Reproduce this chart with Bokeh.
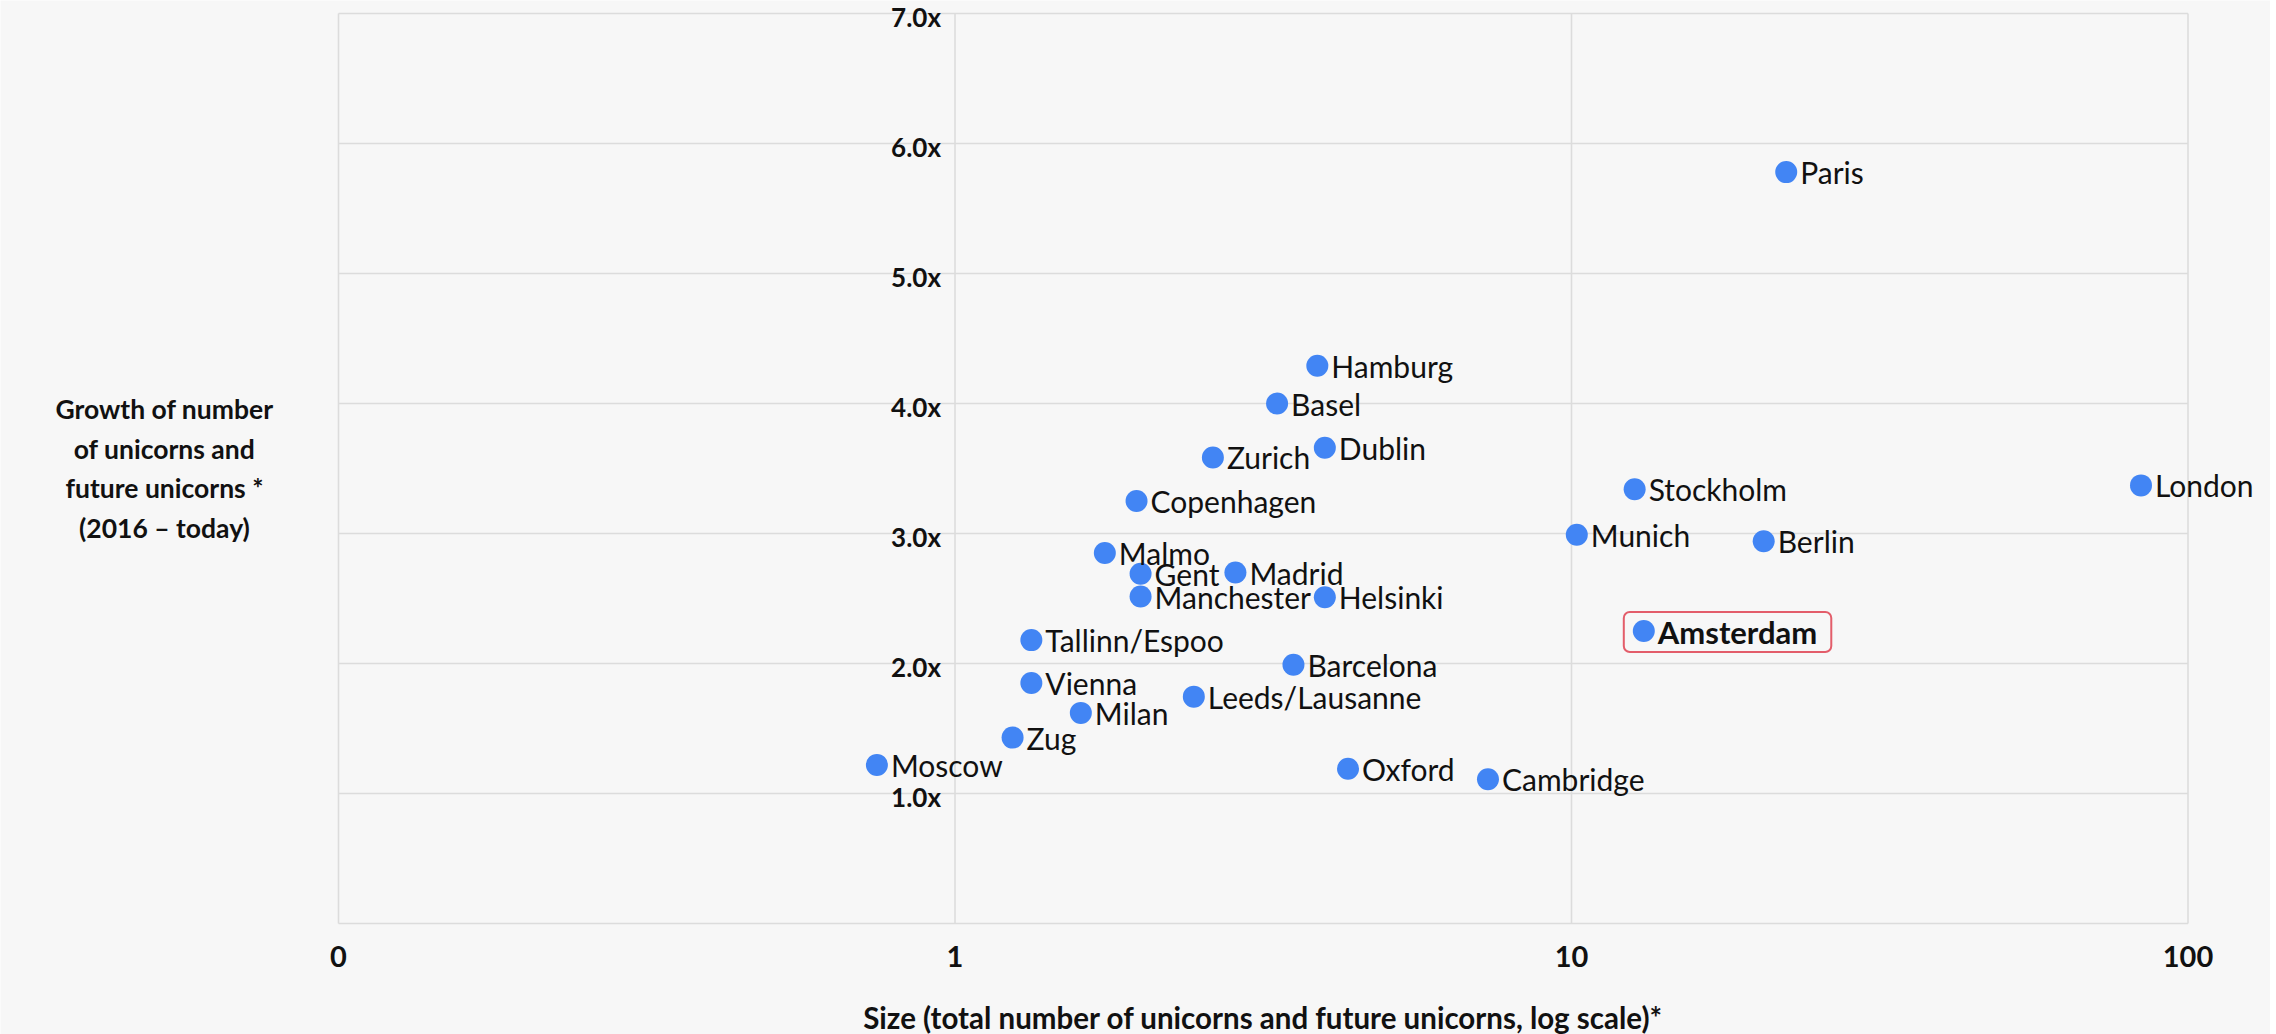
import math
from bokeh.plotting import figure
from bokeh.models import Range1d, ColumnDataSource
from bokeh.core.properties import value
from bokeh.embed import file_html
from bokeh.resources import INLINE

# ---------------- data ----------------
cities = ["Paris", "Hamburg", "Basel", "Dublin", "Zurich", "Copenhagen", "Stockholm",
          "London", "Munich", "Berlin", "Malmo", "Gent", "Madrid", "Manchester",
          "Helsinki", "Amsterdam", "Tallinn/Espoo", "Barcelona", "Vienna",
          "Leeds/Lausanne", "Milan", "Zug", "Moscow", "Oxford", "Cambridge"]
size = [22.3, 3.87, 3.33, 3.98, 2.62, 1.97, 12.66,
        83.9, 10.2, 20.5, 1.75, 2.0, 2.85, 2.0,
        3.98, 13.1, 1.33, 3.54, 1.33,
        2.44, 1.60, 1.24, 0.747, 4.34, 7.32]
growth = [5.78, 4.29, 4.00, 3.66, 3.585, 3.25, 3.34,
          3.37, 2.99, 2.94, 2.85, 2.69, 2.70, 2.515,
          2.51, 2.25, 2.18, 1.99, 1.85,
          1.745, 1.62, 1.43, 1.22, 1.19, 1.11]
highlight = "Amsterdam"

x_ticks = [0.1, 1, 10, 100]
x_tick_labels = ["0", "1", "10", "100"]
y_ticks = [1, 2, 3, 4, 5, 6, 7]
y_tick_labels = ["1.0x", "2.0x", "3.0x", "4.0x", "5.0x", "6.0x", "7.0x"]
y_grid = [0, 1, 2, 3, 4, 5, 6, 7]

x_title = "Size (total number of unicorns and future unicorns, log scale)*"
y_title = "Growth of number\nof unicorns and\nfuture unicorns *\n(2016 \u2013 today)"

# ---------------- layout ----------------
W, H = 2270, 1034
LEFT_PX = 338.0      # canvas px of x = 0.1
DECADE_PX = 616.5    # px per decade
ZERO_PX = 923.0      # canvas px of y = 0
UNIT_PX = 130.0      # px per unit of y

x_start = 10 ** (-1 - LEFT_PX / DECADE_PX)
x_end = 10 ** (-1 + (W - LEFT_PX) / DECADE_PX)
y_end = ZERO_PX / UNIT_PX
y_start = (ZERO_PX - H) / UNIT_PX

FONT = value("Lato")
BG = "#f7f7f7"
GRID = "#dcdcdc"
TXT = "#111111"
BLUE = "#4285f4"
RED = "#e35d6a"

p = figure(width=W, height=H, output_backend="svg", toolbar_location=None,
           x_axis_type="log", x_axis_location=None, y_axis_location=None,
           x_range=Range1d(x_start, x_end), y_range=Range1d(y_start, y_end),
           min_border=0, background_fill_color=BG, border_fill_color=BG)
p.outline_line_color = None
p.grid.visible = False

# grid lines
p.segment(x0=[x_ticks[0]] * len(y_grid), x1=[x_ticks[-1]] * len(y_grid),
          y0=y_grid, y1=y_grid, line_color=GRID, line_width=1.6)
p.segment(x0=x_ticks, x1=x_ticks, y0=[y_grid[0]] * len(x_ticks),
          y1=[y_grid[-1]] * len(x_ticks), line_color=GRID, line_width=1.6)

# y tick labels (axis sits at x = 1)
p.text(x=[1] * len(y_ticks), y=y_ticks, text=y_tick_labels, x_offset=-14, y_offset=3,
       text_align="right", text_baseline="middle", text_font=FONT,
       text_font_style="bold", text_font_size="26px", text_color=TXT)

# x tick labels
p.text(x=x_ticks, y=[0] * len(x_ticks), text=x_tick_labels, y_offset=33,
       text_align="center", text_baseline="middle", text_font=FONT,
       text_font_style="bold", text_font_size="29px", text_color=TXT)

# axis titles
p.text(x=[math.sqrt(x_ticks[0] * x_ticks[-1])], y=[0], text=[x_title], y_offset=94,
       text_align="center", text_baseline="middle", text_font=FONT,
       text_font_style="bold", text_font_size="29.5px", text_color=TXT)
p.text(x=[x_ticks[0]], y=[(y_grid[0] + y_grid[-1]) / 2], text=[y_title], x_offset=-174,
       text_align="center", text_baseline="middle", text_font=FONT,
       text_font_style="bold", text_font_size="26.5px", text_color=TXT,
       text_line_height=1.23)

# highlighted label with box (drawn first so the dot sits on top)
hi = [i for i, c in enumerate(cities) if c == highlight]
lo = [i for i, c in enumerate(cities) if c != highlight]
src_hi = ColumnDataSource(dict(x=[size[i] for i in hi], y=[growth[i] for i in hi],
                               t=[cities[i] for i in hi]))
src_lo = ColumnDataSource(dict(x=[size[i] for i in lo], y=[growth[i] for i in lo],
                               t=[cities[i] for i in lo]))
p.text(x="x", y="y", text="t", source=src_hi, x_offset=-20, y_offset=1,
       text_align="left", text_baseline="middle", text_font=FONT,
       text_font_style="bold", text_font_size="31px", text_color=TXT,
       border_line_color=RED, border_line_width=2, border_radius=6,
       padding=dict(left=34, right=14, top=1, bottom=1))

# points
src_all = ColumnDataSource(dict(x=size, y=growth, t=cities))
p.scatter(x="x", y="y", source=src_all, size=22, fill_color=BLUE, line_color=None)

# labels
p.text(x="x", y="y", text="t", source=src_lo, x_offset=14, y_offset=0,
       text_align="left", text_baseline="middle", text_font=FONT,
       text_font_size="30px", text_color=TXT)

open("out.html", "w").write(file_html(p, INLINE))
